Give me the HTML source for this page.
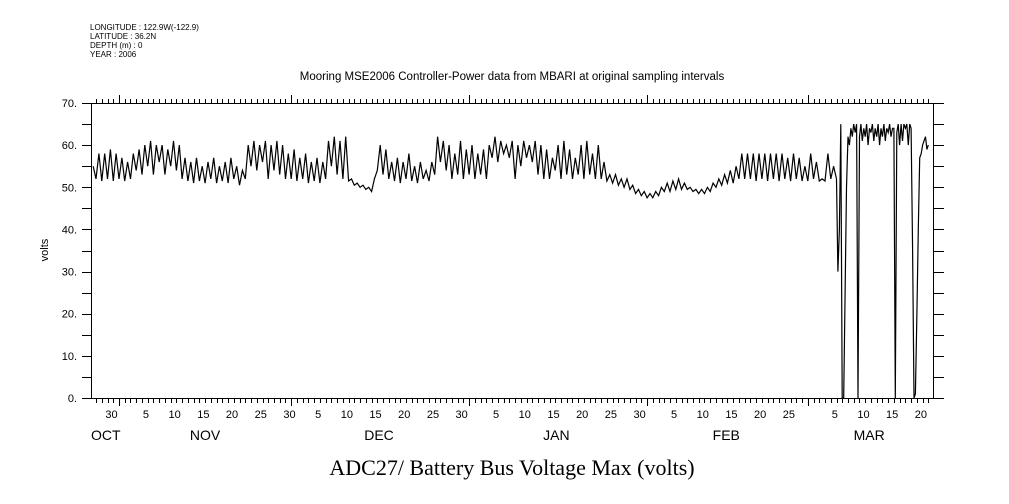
<!DOCTYPE html>
<html><head><meta charset="utf-8"><style>
body{margin:0;background:#fff;}
svg{display:block;}
text{font-family:"Liberation Sans",sans-serif;fill:#000;}
</style></head><body>
<svg id="chart" width="1009" height="504" xmlns="http://www.w3.org/2000/svg">
<g font-size="8">
<text x="90" y="30">LONGITUDE : 122.9W(-122.9)</text>
<text x="90" y="39">LATITUDE : 36.2N</text>
<text x="90" y="48">DEPTH (m) : 0</text>
<text x="90" y="57">YEAR : 2006</text>
</g>
<text x="512" y="80" text-anchor="middle" font-size="11.5">Mooring MSE2006 Controller-Power data from MBARI at original sampling intervals</text>
<text x="48" y="250" text-anchor="middle" font-size="11" transform="rotate(-90 48 250)">volts</text>
<text x="512" y="475" text-anchor="middle" font-size="22" style="font-family:'Liberation Serif',serif">ADC27/ Battery Bus Voltage Max (volts)</text>
<g id="axes"></g>
<g id="series"></g>
</svg>
<script>
const yTicks=[0,10,20,30,40,50,60,70];
const yTickLabels=["0.","10.","20.","30.","40.","50.","60.","70."];
const dayLabelDays=[29,35,40,45,50,55,60,65,70,75,80,85,90,96,101,106,111,116,121,127,132,137,142,147,155,160,165,170];
const dayLabels=["30","5","10","15","20","25","30","5","10","15","20","25","30","5","10","15","20","25","30","5","10","15","20","25","5","10","15","20"];
const monthStartDays=[31,61,92,123,151];
const monthLabelDays=[28.7,46,76.3,107.2,136.8,161.7];
const monthLabels=["OCT","NOV","DEC","JAN","FEB","MAR"];
const mainStart=26.5, mainStep=0.5;
const mainVolts=[55,
52,58,51.5,58,52,59,51.5,58,52,57,51.5,56,52,58,54,59,53,60,55,61,53,60,56,60,53,59,55,61,54,60,
52,57,51.5,56,51,57,51.5,55,51,56,52,57,51,55,51.5,56,51,57,52,55,50.5,54,52,60,55,61,54,60,56,61,
52,60,54,61,53,60,52,58,52,59,51.5,57,52,58,51,56,51.5,57,51,56,52,61,55,62,53,61,52,62,51.5,52,
50.5,51,50,50.5,49.5,50,49,52,54,60,53,59,52,56,51.5,57,51,56,52,58,51.5,55,51,56,52,54,51.5,56,
53,62,56,61,54,60,52,58,53,61,52,59,53,60,52,58,53,59,52,60,57,62,56,61,58,60,57,61,52,60,55,61,
57,60,56,61,53,60,52,59,52,57,54,60,52,61,53,59,52,57,53,60,52,61,53,58,52,60,52,56,51.5,53,51,53,
50.5,52,50,52,49.5,50.5,48.5,49.5,48,49,47.5,48.5,47.5,49,48,50,49,51,49,51.5,49.5,52,49.5,51,49.5,50,
49,49.5,48.5,49.5,48.5,50,49,51,50,52,50.5,53,51,54,51,55,52,58,52,58,52,58,51.5,58,52,58,51.5,58,
52,58,51.5,58,52,57,51.5,58,52,57,51.5,55,51.5,58,52,56,51.5,52,51.5,58,52,55];
const marStart=156, marStep=0.25;
const marVolts=[52,30,40,65,0,0,25,50,62,60,64,62,65,63,65,0,62,65,
61,64,62,65,60,64,63,65,61,64,62,65,60,64,62,65,61,64,63,65,62,64,
64,0,63,65,60,65,61,65,64,65,60,65,64,35,0,1,20,40,57,58,60,61,62,59,60];

const X0=91,X1=933,Y0=398,Y1=103;
const dayRef=31, xRef=119, pxPerDay=5.74;
const xs=d=>xRef+(d-dayRef)*pxPerDay;
const ys=v=>Y0-(v/70)*(Y0-Y1);
const NS="http://www.w3.org/2000/svg";
const axes=document.getElementById('axes');
const series=document.getElementById('series');
function line(p,x1,y1,x2,y2,name){const l=document.createElementNS(NS,'line');
l.setAttribute('x1',x1);l.setAttribute('y1',y1);l.setAttribute('x2',x2);l.setAttribute('y2',y2);
l.setAttribute('stroke','#000');l.setAttribute('stroke-width','1');


p.appendChild(l);return l;}
function txt(p,x,y,s,size,anchor,name){const t=document.createElementNS(NS,'text');
t.setAttribute('x',x);t.setAttribute('y',y);t.setAttribute('font-size',size);t.setAttribute('text-anchor',anchor);t.textContent=s;


p.appendChild(t);}
const fr=document.createElementNS(NS,'rect');
fr.setAttribute('x',X0+0.5);fr.setAttribute('y',Y1+0.5);fr.setAttribute('width',X1-X0);fr.setAttribute('height',Y0-Y1);
fr.setAttribute('fill','none');fr.setAttribute('stroke','#000');


axes.appendChild(fr);
for(let v=0;v<=70;v+=5){const y=Math.round(ys(v))+0.5;
line(axes,X0-9,y,X0,y,'y-tick-left');line(axes,X1,y,X1+11,y,'y-tick-right');}
yTicks.forEach((v,i)=>txt(axes,X0-14,ys(v)+4,yTickLabels[i],11,'end','y-tick-label'));
for(let d=27;d<=172;d++){const x=Math.round(xs(d))+0.5;const major=monthStartDays.includes(d);
line(axes,x,Y0,x,Y0+(major?8:5),'x-tick-bottom');line(axes,x,Y1,x,Y1-(major?8:4),'x-tick-top');}
dayLabelDays.forEach((d,i)=>txt(axes,xs(d)+4,418,dayLabels[i],11,'middle','x-day-label'));
monthLabelDays.forEach((d,i)=>txt(axes,xs(d),440,monthLabels[i],14,'middle','x-month-label'));
function path(vals,start,step,name){let s='';vals.forEach((v,i)=>{s+=(i?'L':'M')+xs(start+i*step).toFixed(1)+' '+ys(v).toFixed(1);});
const p=document.createElementNS(NS,'path');p.setAttribute('d',s);p.setAttribute('fill','none');p.setAttribute('stroke','#000');p.setAttribute('stroke-width','1.2');


series.appendChild(p);}
path(mainVolts.concat([marVolts[0]]),mainStart,mainStep,'voltage-line-main');
path(marVolts,marStart,marStep,'voltage-line-march');
</script>
</body></html>
